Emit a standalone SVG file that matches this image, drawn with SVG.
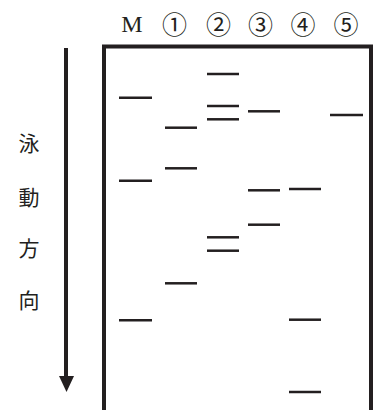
<svg xmlns="http://www.w3.org/2000/svg" width="373" height="410" viewBox="0 0 373 410">
<style>
.lbl{font-family:"Liberation Serif","Noto Sans CJK JP",serif;font-size:24px;fill:#231f20;text-anchor:middle}
.num{font-family:"Noto Sans CJK JP",sans-serif;font-size:25px;fill:#231f20;text-anchor:middle}
.dir{font-family:"Noto Sans CJK JP",sans-serif;font-size:21px;fill:#231f20;text-anchor:middle}
.band{stroke:#231f20;stroke-width:2.5;fill:none}
.frame{stroke:#231f20;stroke-width:4;fill:none}
</style>
<rect width="373" height="410" fill="#ffffff"/>
<g id="labels">
<text class="lbl" x="132" y="31.5">M</text>
<text class="num" x="174.5" y="33.8">①</text>
<text class="num" x="218.5" y="33.8">②</text>
<text class="num" x="260.5" y="33.8">③</text>
<text class="num" x="303" y="33.8">④</text>
<text class="num" x="346" y="33.8">⑤</text>
</g>
<g id="gel">
<path class="frame" d="M104,412 V46.5 H371 V412"/>
</g>
<g id="direction">
<line x1="66" y1="48" x2="66" y2="378" stroke="#231f20" stroke-width="4"/>
<polygon points="59,376 74,376 66.5,392" fill="#231f20"/>
<text class="dir" x="29" y="151">泳</text>
<text class="dir" x="29" y="205">動</text>
<text class="dir" x="29" y="256">方</text>
<text class="dir" x="29" y="308">向</text>
</g>
<g id="bands">
<line class="band" x1="119" y1="97.7" x2="152" y2="97.7"/>
<line class="band" x1="119" y1="180.7" x2="152" y2="180.7"/>
<line class="band" x1="119" y1="320.3" x2="152" y2="320.3"/>
<line class="band" x1="165" y1="127.7" x2="197" y2="127.7"/>
<line class="band" x1="165" y1="168.3" x2="197" y2="168.3"/>
<line class="band" x1="165" y1="283.3" x2="197" y2="283.3"/>
<line class="band" x1="207" y1="74" x2="239" y2="74"/>
<line class="band" x1="207" y1="106" x2="239" y2="106"/>
<line class="band" x1="207" y1="119.3" x2="239" y2="119.3"/>
<line class="band" x1="207" y1="237.3" x2="239" y2="237.3"/>
<line class="band" x1="207" y1="250.7" x2="239" y2="250.7"/>
<line class="band" x1="248" y1="111.3" x2="280" y2="111.3"/>
<line class="band" x1="248" y1="190.3" x2="280" y2="190.3"/>
<line class="band" x1="248" y1="224.7" x2="280" y2="224.7"/>
<line class="band" x1="289" y1="189" x2="321" y2="189"/>
<line class="band" x1="289" y1="319.7" x2="321" y2="319.7"/>
<line class="band" x1="289" y1="392" x2="321" y2="392"/>
<line class="band" x1="330" y1="115" x2="363" y2="115"/>
</g>
</svg>
